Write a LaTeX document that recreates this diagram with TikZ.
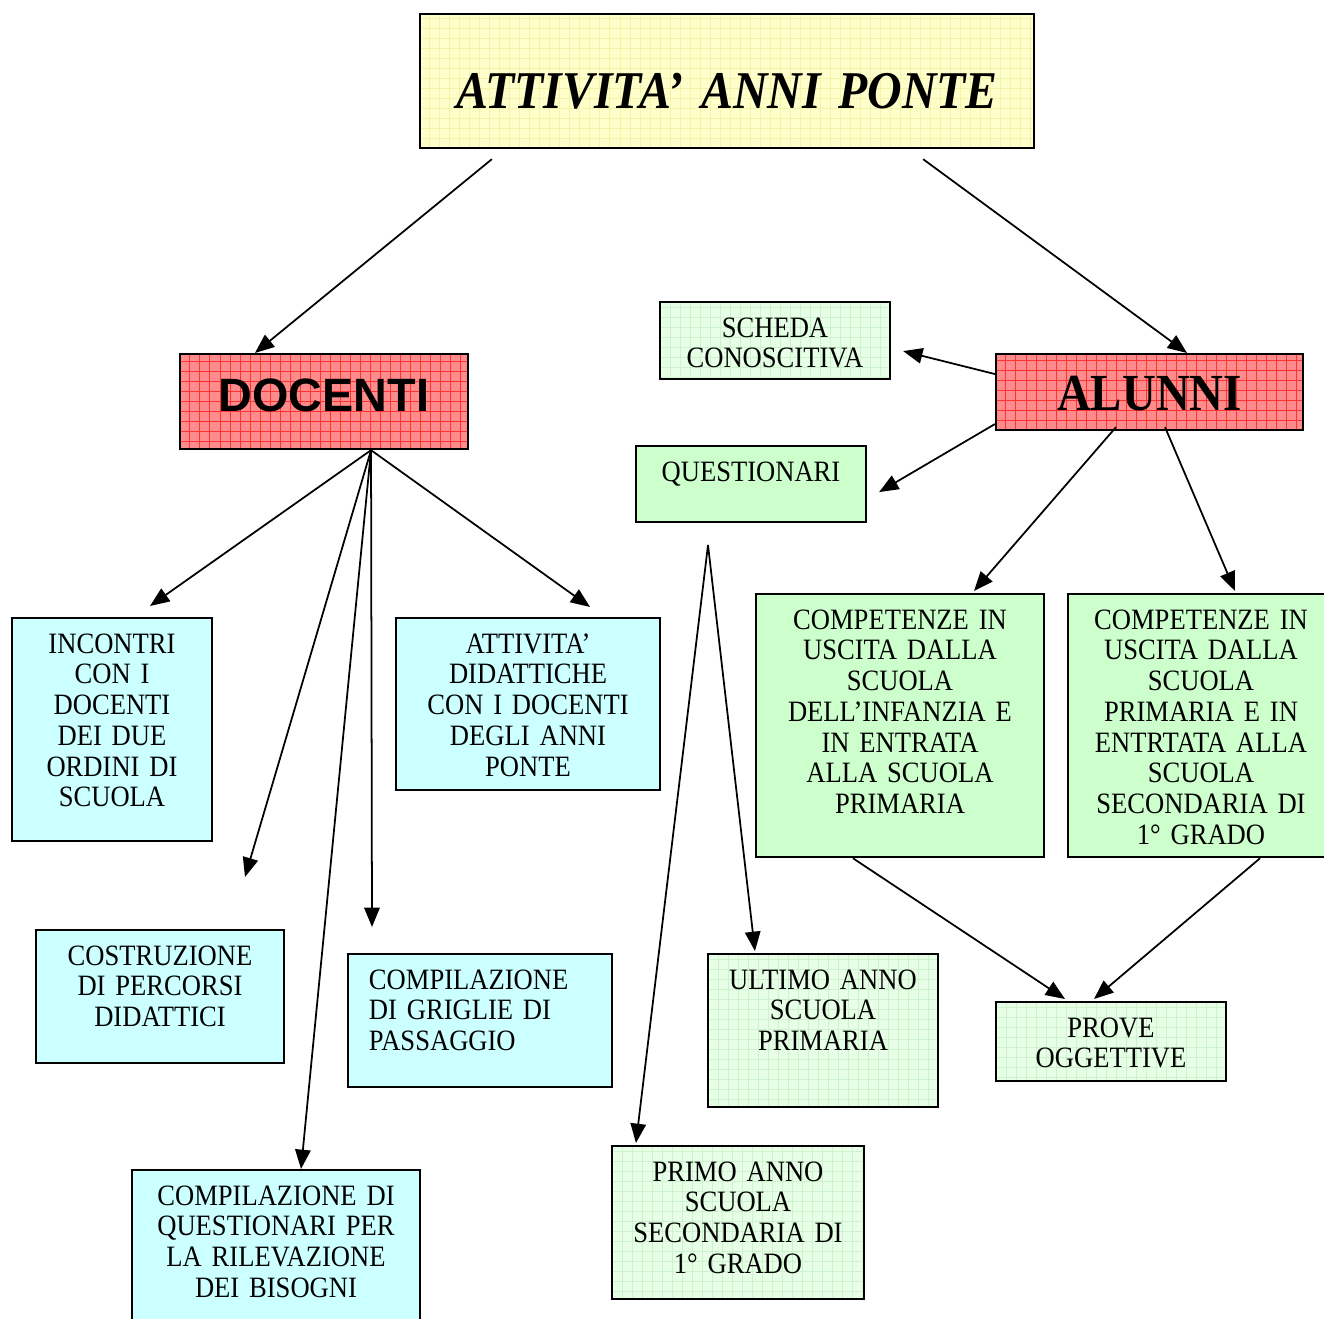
\documentclass[tikz,border=0pt]{standalone}
\usepackage{fontspec}
\setmainfont{Liberation Serif}[FakeStretch=0.9, WordSpace=0.7]
\newfontfamily\docfont{Liberation Sans}
\usetikzlibrary{arrows.meta}

\definecolor{giallo}{RGB}{255,255,204}
\definecolor{gialloriga}{RGB}{245,242,170}
\definecolor{rosso}{RGB}{255,140,140}
\definecolor{rossoriga}{RGB}{255,50,50}
\definecolor{verdino}{RGB}{230,255,230}
\definecolor{verdinoriga}{RGB}{205,242,205}
\definecolor{verde}{RGB}{204,255,204}
\definecolor{ciano}{RGB}{204,255,255}

\tikzset{
	box/.style={draw, line width=.6pt, inner sep=0pt, anchor=north, align=center, text height=3.5mm, font=\fontsize{8.4pt}{8.75pt}\selectfont},
	grid fill/.style 2 args={fill=#1, path picture={\draw[#2, line width=.25pt] (path picture bounding box.south west) grid[step=1mm] (path picture bounding box.north east);}},
	arr/.style={-{Triangle[length=5.5pt,width=4.4pt]}, line width=.5pt},
}

\begin{document}
\begin{tikzpicture}[x=0.01cm, y=-0.01cm]
			%%%%% START %%%%%
			\useasboundingbox (0,0) rectangle (1324,1319);
			
			\node[box, grid fill={giallo}{gialloriga}, text width=6.14cm, text height=9.4mm, text depth=4mm, font=\bfseries\itshape\fontsize{15.1pt}{16pt}\selectfont] (title) at (727,13) {ATTIVITA’ ANNI PONTE};
			
			\node[box, grid fill={rosso}{rossoriga}, text width=2.88cm, text height=5.7mm, text depth=3.8mm, font=\docfont\bfseries\fontsize{13.3pt}{14pt}\selectfont] (docenti) at (324,353) {DOCENTI};
			\node[box, grid fill={rosso}{rossoriga}, text width=3.07cm, text height=5.6mm, text depth=2mm, font=\bfseries\fontsize{14.8pt}{16pt}\selectfont] (alunni) at (1149.5,353) {ALUNNI};
			
			% docenti
			\node[box, fill=ciano, text width=2cm, text depth=18.8mm] (incontri) at (112,617) {INCONTRI\\CON I\\DOCENTI\\DEI DUE\\ORDINI DI\\SCUOLA};
			\node[box, fill=ciano, text width=2.64cm, text depth=13.7mm] (didattiche) at (528,617) {ATTIVITA’\\DIDATTICHE\\CON I DOCENTI\\DEGLI ANNI\\PONTE};
			\node[box, fill=ciano, text width=2.48cm, text depth=9.8mm] (percorsi) at (160,929) {COSTRUZIONE\\DI PERCORSI\\DIDATTICI};
			\node[box, fill=ciano, text width=2.22cm, inner xsep=2.1mm, align=left, text depth=9.8mm] (griglie) at (480,953) {COMPILAZIONE\\DI GRIGLIE DI\\PASSAGGIO};
			\node[box, fill=ciano, text width=2.88cm, text depth=13.5mm] (bisogni) at (276,1169) {COMPILAZIONE DI\\QUESTIONARI PER\\LA RILEVAZIONE\\DEI BISOGNI};
			
			% alunni
			\node[box, grid fill={verdino}{verdinoriga}, text width=2.3cm, text depth=4.2mm] (scheda) at (775,301) {SCHEDA\\CONOSCITIVA};
			\node[box, fill=verde, text width=2.3cm, text depth=4.1mm] (questionari) at (751,445) {QUESTIONARI};
			\node[box, fill=verde, text width=2.88cm, text depth=22.8mm] (infanzia) at (900,593) {COMPETENZE IN\\USCITA DALLA\\SCUOLA\\DELL’INFANZIA E\\IN ENTRATA\\ALLA SCUOLA\\PRIMARIA};
			\node[box, fill=verde, text width=2.66cm, text depth=22.8mm] (primaria) at (1201,593) {COMPETENZE IN\\USCITA DALLA\\SCUOLA\\PRIMARIA E IN\\ENTRTATA ALLA\\SCUOLA\\SECONDARIA DI\\1° GRADO};
			\node[box, grid fill={verdino}{verdinoriga}, text width=2.3cm, text depth=11.8mm] (ultimo) at (823,953) {ULTIMO ANNO\\SCUOLA\\PRIMARIA};
			\node[box, grid fill={verdino}{verdinoriga}, text width=2.52cm, text depth=11.8mm] (primo) at (738,1145) {PRIMO ANNO\\SCUOLA\\SECONDARIA DI\\1° GRADO};
			\node[box, grid fill={verdino}{verdinoriga}, text width=2.3cm, text depth=4.4mm] (prove) at (1111,1001) {PROVE\\OGGETTIVE};
			
			\coordinate (percorsi in) at (245,877);
			\coordinate (griglie in) at (372,927);
			\coordinate (anni) at (708,545);
			
			% frecce
			\draw[arr] ([xshift=-2.35cm,yshift=-1mm]title.south) -- ([xshift=-.69cm]docenti.north);
			\draw[arr] ([xshift=1.96cm,yshift=-1mm]title.south) -- ([xshift=.375cm]alunni.north);
			
			\draw[arr] ([xshift=.47cm]docenti.south) -- ([xshift=.38cm,yshift=1.1mm]incontri.north);
			\draw[arr] ([xshift=.47cm]docenti.south) -- ([xshift=.62cm,yshift=1mm]didattiche.north);
			\draw[arr] ([xshift=.47cm]docenti.south) -- (percorsi in);
			\draw[arr] ([xshift=.47cm]docenti.south) -- (griglie in);
			\draw[arr] ([xshift=.47cm]docenti.south) -- ([xshift=.25cm]bisogni.north);
			
			\draw[arr] ([yshift=1.8mm]alunni.west) -- ([xshift=1.2mm,yshift=-1.05mm]scheda.east);
			\draw[arr] ([yshift=-3.2mm]alunni.west) -- ([xshift=1.2mm,yshift=-.8mm]questionari.east);
			\draw[arr] ([xshift=-.335cm,yshift=.4mm]alunni.south) -- ([xshift=.74cm,yshift=.2mm]infanzia.north);
			\draw[arr] ([xshift=.155cm,yshift=.4mm]alunni.south) -- ([xshift=.34cm,yshift=.2mm]primaria.north);
			
			\draw[arr] (anni) -- ([xshift=-.68cm,yshift=.2mm]ultimo.north);
			\draw[arr] (anni) -- ([xshift=-1.02cm,yshift=.2mm]primo.north);
			
			\draw[arr] ([xshift=-.47cm]infanzia.south) -- ([xshift=-.46cm,yshift=.2mm]prove.north);
			\draw[arr] ([xshift=.59cm]primaria.south) -- ([xshift=-.17cm,yshift=.2mm]prove.north);
			
			%%%%% END %%%%%
\end{tikzpicture}
\end{document}
